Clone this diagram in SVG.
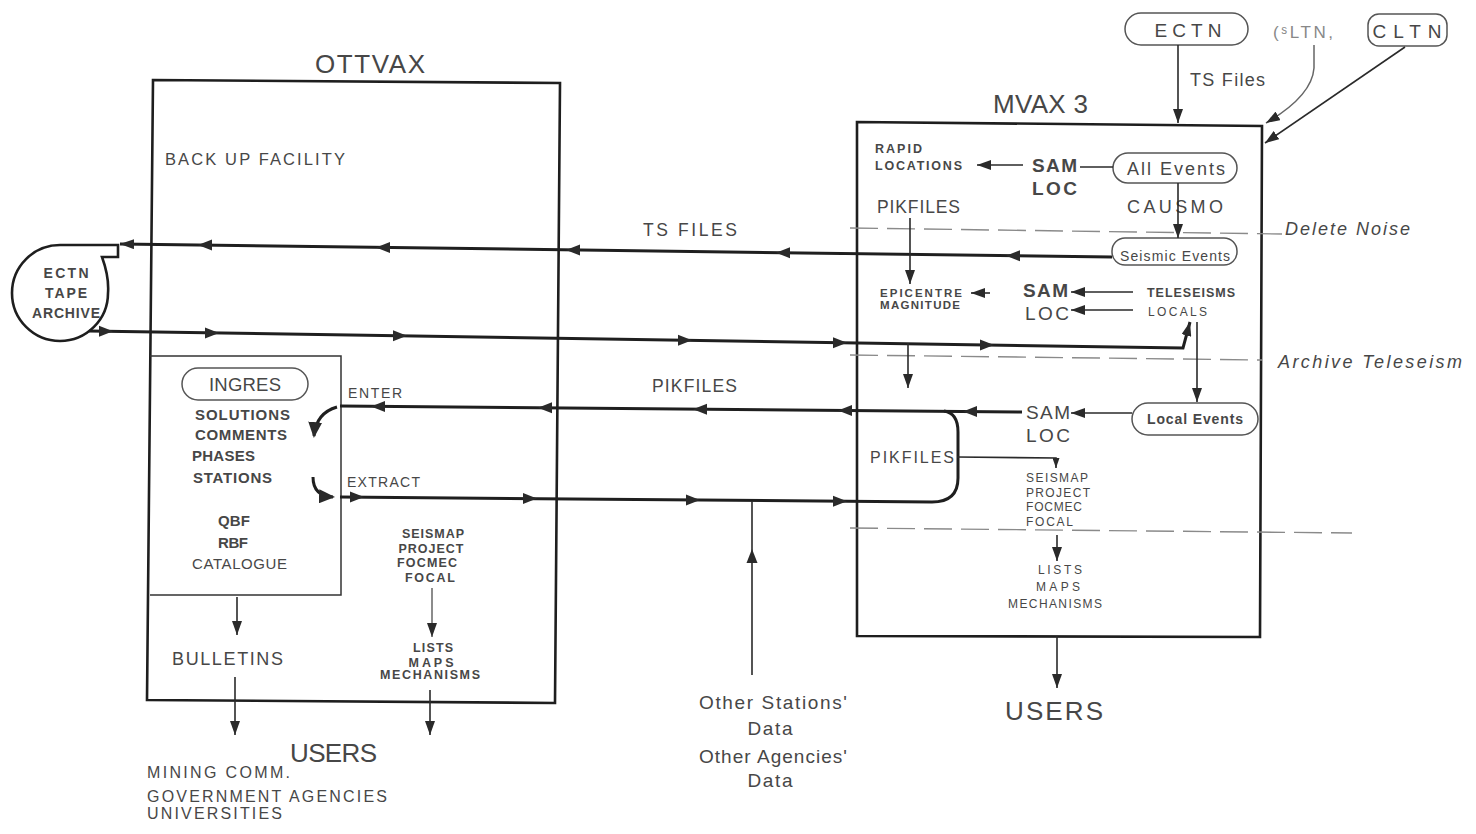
<svg xmlns="http://www.w3.org/2000/svg" width="1476" height="834" viewBox="0 0 1476 834">
<defs>
<style>
text{font-family:"Liberation Sans","DejaVu Sans",sans-serif;fill:#474747}
.b{font-weight:bold}
.i{font-style:italic}
.box{fill:none;stroke:#1e1e1e;stroke-width:2.6}
.ibox{fill:none;stroke:#333;stroke-width:1.5}
.flow{fill:none;stroke:#1f1f1f;stroke-width:3}
.thin{fill:none;stroke:#2a2a2a;stroke-width:1.6}
.gray{fill:none;stroke:#666;stroke-width:1.5}
.dash{fill:none;stroke:#8a8a8a;stroke-width:1.4;stroke-dasharray:28 9}
.pill{fill:#fff;stroke:#555;stroke-width:1.5}
.tri{fill:#2a2a2a}
</style>
<path id="tr" d="M7,0 L-7,-5.5 L-7,5.5 Z"/>
<marker id="ah" viewBox="0 0 14 10" refX="14" refY="5" markerWidth="14" markerHeight="10" orient="auto" markerUnits="userSpaceOnUse"><path d="M0,0 L14,5 L0,10 Z" fill="#2a2a2a"/></marker>
<marker id="ahs" viewBox="0 0 10 7" refX="10" refY="3.5" markerWidth="10" markerHeight="7" orient="auto" markerUnits="userSpaceOnUse"><path d="M0,0 L10,3.5 L0,7 Z" fill="#2a2a2a"/></marker>
<marker id="ahb" viewBox="0 0 16 14" refX="14" refY="7" markerWidth="16" markerHeight="14" orient="auto" markerUnits="userSpaceOnUse"><path d="M0,0 L16,7 L0,14 Z" fill="#2a2a2a"/></marker>
</defs>
<rect width="1476" height="834" fill="#fff"/>

<!-- OTTVAX -->
<g id="ottvax">
<polygon class="box" points="153,80 560,83 555,703 147,700"/>
<text x="315" y="73" font-size="26" textLength="110">OTTVAX</text>
<text x="165" y="165" font-size="16.5" textLength="180">BACK UP FACILITY</text>
</g>

<g id="ingres-box">
<path class="ibox" d="M150 356 L341 356 L341 595 L150 595"/>
<rect class="pill" x="182" y="368" width="126" height="32" rx="16"/>
<text x="245" y="391" font-size="18.5" text-anchor="middle" textLength="72">INGRES</text>
<text x="195" y="420" font-size="15" class="b" textLength="95">SOLUTIONS</text>
<text x="195" y="440" font-size="15" class="b" textLength="92">COMMENTS</text>
<text x="192" y="461" font-size="15" class="b" textLength="63">PHASES</text>
<text x="193" y="483" font-size="15" class="b" textLength="79">STATIONS</text>
<text x="234" y="526" font-size="15" class="b" text-anchor="middle" textLength="32">QBF</text>
<text x="233" y="548" font-size="15" class="b" text-anchor="middle" textLength="30">RBF</text>
<text x="192" y="569" font-size="15" textLength="95">CATALOGUE</text>
</g>

<g id="bulletins"><text x="172" y="665" font-size="18" textLength="111">BULLETINS</text></g>

<g id="ottvax-programs">
<text x="433" y="538" font-size="12.5" class="b" text-anchor="middle" textLength="62">SEISMAP</text>
<text x="431" y="553" font-size="12.5" class="b" text-anchor="middle" textLength="65">PROJECT</text>
<text x="427" y="567" font-size="12.5" class="b" text-anchor="middle" textLength="60">FOCMEC</text>
<text x="430" y="582" font-size="12.5" class="b" text-anchor="middle" textLength="50">FOCAL</text>
</g>
<g id="ottvax-outputs">
<text x="433" y="652" font-size="12.5" class="b" text-anchor="middle" textLength="40">LISTS</text>
<text x="431" y="667" font-size="12.5" class="b" text-anchor="middle" textLength="45">MAPS</text>
<text x="430" y="679" font-size="12.5" class="b" text-anchor="middle" textLength="100">MECHANISMS</text>
</g>

<g id="users-left">
<text x="290" y="762" font-size="26" textLength="87">USERS</text>
<text x="147" y="778" font-size="16" textLength="143">MINING COMM.</text>
<text x="147" y="802" font-size="16" textLength="240">GOVERNMENT AGENCIES</text>
<text x="147" y="819" font-size="16" textLength="135">UNIVERSITIES</text>
</g>

<g id="tape-archive">
<path class="box" stroke-width="1.8" d="M60 245 L118 245 L118 257 L102 257 C106 268 109 280 108 293 A48 48 0 1 1 60 245 Z"/>
<text x="66" y="278" font-size="14" class="b" text-anchor="middle" textLength="45">ECTN</text>
<text x="66" y="298" font-size="14" class="b" text-anchor="middle" textLength="42">TAPE</text>
<text x="66" y="318" font-size="14" class="b" text-anchor="middle" textLength="68">ARCHIVE</text>
</g>

<g id="other-data">
<text x="773" y="709" font-size="19" text-anchor="middle" textLength="148">Other Stations'</text>
<text x="770" y="735" font-size="19" text-anchor="middle" textLength="45">Data</text>
<text x="773" y="763" font-size="19" text-anchor="middle" textLength="148">Other Agencies'</text>
<text x="770" y="787" font-size="19" text-anchor="middle" textLength="45">Data</text>
</g>

<!-- MVAX -->
<g id="mvax3">
<polygon class="box" points="857,122 1262,126 1260,637 857,636"/>
<text x="993" y="113" font-size="26" textLength="95">MVAX 3</text>
</g>

<g id="ectn"><rect class="pill" x="1125" y="13" width="123" height="32" rx="16"/><text x="1188" y="37" font-size="19" text-anchor="middle" textLength="67">ECTN</text></g>
<g id="sltn"><text x="1273" y="38" font-size="17" style="fill:#888" textLength="60">(ˢLTN,</text></g>
<g id="cltn"><rect class="pill" x="1368" y="14" width="79" height="32" rx="11"/><text x="1407" y="38" font-size="19" text-anchor="middle" textLength="69">CLTN</text></g>

<g id="rapid-locations">
<text x="875" y="153" font-size="12.5" class="b" textLength="47">RAPID</text>
<text x="875" y="170" font-size="12.5" class="b" textLength="87">LOCATIONS</text>
</g>
<g id="samloc-1">
<text x="1032" y="172" font-size="19" class="b" textLength="45">SAM</text>
<text x="1032" y="195" font-size="19" class="b" textLength="45">LOC</text>
</g>
<g id="all-events"><rect class="pill" x="1113" y="153" width="124" height="30" rx="15"/><text x="1176" y="175" font-size="18" text-anchor="middle" textLength="98">All Events</text></g>
<g id="causmo"><text x="1127" y="213" font-size="18" textLength="96">CAUSMO</text></g>
<g id="pikfiles-top"><text x="877" y="213" font-size="17.5" textLength="83">PIKFILES</text></g>
<g id="seismic-events"><rect class="pill" x="1112" y="238" width="125" height="27" rx="13"/><text x="1175" y="261" font-size="14" text-anchor="middle" textLength="110">Seismic Events</text></g>
<g id="epicentre">
<text x="880" y="297" font-size="11.5" class="b" textLength="82">EPICENTRE</text>
<text x="880" y="309" font-size="11.5" class="b" textLength="80">MAGNITUDE</text>
</g>
<g id="samloc-2">
<text x="1023" y="297" font-size="19" class="b" textLength="45">SAM</text>
<text x="1025" y="320" font-size="19" textLength="44">LOC</text>
</g>
<g id="teleseisms"><text x="1147" y="297" font-size="12.5" class="b" textLength="88">TELESEISMS</text></g>
<g id="locals"><text x="1148" y="316" font-size="12" textLength="59">LOCALS</text></g>
<g id="local-events"><rect class="pill" x="1132" y="403" width="126" height="32" rx="16"/><text x="1195" y="424" font-size="14" class="b" text-anchor="middle" textLength="96">Local Events</text></g>
<g id="samloc-3">
<text x="1026" y="419" font-size="19" textLength="44">SAM</text>
<text x="1026" y="442" font-size="19" textLength="44">LOC</text>
</g>
<g id="pikfiles-loop"><text x="870" y="463" font-size="16" textLength="84">PIKFILES</text></g>
<g id="mvax-programs">
<text x="1026" y="482" font-size="12" textLength="62">SEISMAP</text>
<text x="1026" y="497" font-size="12" textLength="64">PROJECT</text>
<text x="1026" y="511" font-size="12" textLength="56">FOCMEC</text>
<text x="1026" y="526" font-size="12" textLength="47">FOCAL</text>
</g>
<g id="mvax-outputs">
<text x="1060" y="574" font-size="12" text-anchor="middle" textLength="44">LISTS</text>
<text x="1058" y="591" font-size="12" text-anchor="middle" textLength="44">MAPS</text>
<text x="1055" y="608" font-size="12" text-anchor="middle" textLength="94">MECHANISMS</text>
</g>
<g id="users-right"><text x="1005" y="720" font-size="26" textLength="98">USERS</text></g>

<!-- labels -->
<g id="labels">
<text x="1190" y="86" font-size="18" textLength="75">TS Files</text>
<text x="643" y="236" font-size="17.5" textLength="94">TS FILES</text>
<text x="652" y="392" font-size="17.5" textLength="85">PIKFILES</text>
<text x="348" y="398" font-size="14" textLength="54">ENTER</text>
<text x="347" y="487" font-size="14" textLength="73">EXTRACT</text>
<text x="1285" y="235" font-size="18" class="i" textLength="125">Delete Noise</text>
<text x="1278" y="368" font-size="18" class="i" textLength="184">Archive Teleseism</text>
</g>

<!-- connectors -->
<g id="connectors">
<path class="dash" d="M850 228 L1282 234"/>
<path class="dash" d="M850 355 L1262 360"/>
<path class="dash" d="M850 528 L1352 533"/>

<path class="flow" d="M1112 257 L120 244" marker-end="url(#ah)"/>
<use href="#tr" class="tri" transform="translate(205,245) rotate(180)"/>
<use href="#tr" class="tri" transform="translate(383,247.5) rotate(180)"/>
<use href="#tr" class="tri" transform="translate(573,250) rotate(180)"/>
<use href="#tr" class="tri" transform="translate(783,252.7) rotate(180)"/>
<use href="#tr" class="tri" transform="translate(1013,255.7) rotate(180)"/>

<path class="flow" d="M89 331 L1183 348 L1190 322" marker-end="url(#ah)"/>
<use href="#tr" class="tri" transform="translate(106,331.3)"/>
<use href="#tr" class="tri" transform="translate(212,333)"/>
<use href="#tr" class="tri" transform="translate(400,335.8)"/>
<use href="#tr" class="tri" transform="translate(685,340.3)"/>
<use href="#tr" class="tri" transform="translate(840,342.7)"/>
<use href="#tr" class="tri" transform="translate(987,345)"/>
<path class="thin" d="M908 343 L908 388" marker-end="url(#ah)"/>

<path class="flow" d="M1022 412 L340 406"/>
<use href="#tr" class="tri" transform="translate(378,406.4) rotate(180)"/>
<use href="#tr" class="tri" transform="translate(545,407.8) rotate(180)"/>
<use href="#tr" class="tri" transform="translate(700,409.2) rotate(180)"/>
<use href="#tr" class="tri" transform="translate(845,410.4) rotate(180)"/>
<use href="#tr" class="tri" transform="translate(970,411.5) rotate(180)"/>
<path class="flow" d="M944 411 Q958 413 958 432 L958 478 Q958 502 932 502 L340 497"/>
<use href="#tr" class="tri" transform="translate(357,497.1)"/>
<use href="#tr" class="tri" transform="translate(530,498.6)"/>
<use href="#tr" class="tri" transform="translate(693,500)"/>
<use href="#tr" class="tri" transform="translate(840,501.2)"/>
<path class="flow" stroke-width="3.5" d="M337 407 Q316 413 314 436" marker-end="url(#ahb)"/>
<path class="flow" stroke-width="3.5" d="M313 477 Q313 496 333 497" marker-end="url(#ahb)"/>

<path class="thin" stroke-width="2" d="M752 675 L752 501"/>
<use href="#tr" class="tri" transform="translate(752,556) rotate(-90)"/>

<path class="thin" d="M237 597 L237 635" marker-end="url(#ah)"/>
<path class="thin" d="M235 677 L235 735" marker-end="url(#ah)"/>
<path class="gray" stroke-width="2.6" d="M432 588 L432 637" marker-end="url(#ah)"/>
<path class="thin" d="M430 690 L430 735" marker-end="url(#ah)"/>

<path class="thin" d="M1178 45 L1178 123" marker-end="url(#ah)"/>
<path class="gray" d="M1314 45 L1314 68 Q1312 96 1266 123" marker-end="url(#ah)"/>
<path class="thin" d="M1405 47 L1265 143" marker-end="url(#ah)"/>

<path class="thin" d="M1113 167 L1080 167"/>
<path class="thin" d="M1023 165 L977 165" marker-end="url(#ah)"/>
<path class="thin" d="M1178 183 L1178 238" marker-end="url(#ah)"/>
<path class="thin" d="M910 218 L910 284" marker-end="url(#ah)"/>
<path class="thin" d="M990 293 L971 293" marker-end="url(#ah)"/>
<path class="thin" d="M1133 292 L1071 292" marker-end="url(#ah)"/>
<path class="thin" d="M1133 310 L1071 310" marker-end="url(#ah)"/>
<path class="thin" d="M1197 322 L1197 402" marker-end="url(#ah)"/>
<path class="thin" d="M1132 413 L1071 413" marker-end="url(#ah)"/>
<path class="thin" stroke-width="1.2" d="M957 457 L1056 458 L1056 468" marker-end="url(#ahs)"/>
<path class="thin" d="M1057 535 L1057 561" marker-end="url(#ah)"/>
<path class="thin" d="M1057 636 L1057 688" marker-end="url(#ah)"/>
</g>
</svg>
